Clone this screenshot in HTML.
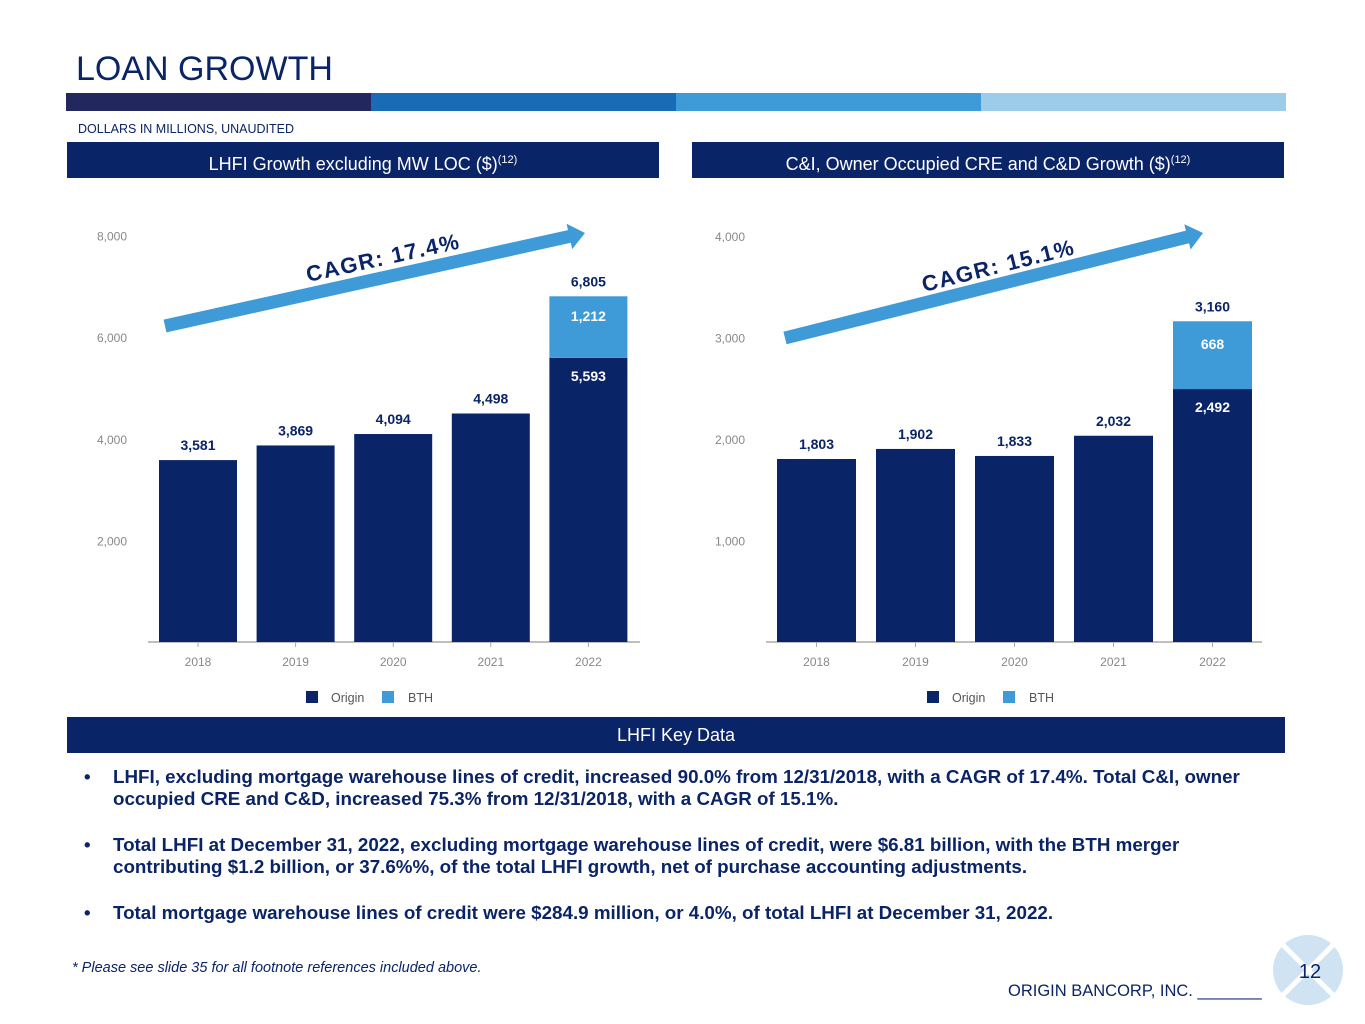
<!DOCTYPE html>
<html><head><meta charset="utf-8"><style>
body{margin:0;width:1365px;height:1024px;background:#fff;font-family:"Liberation Sans",sans-serif;position:relative;overflow:hidden}
.abs{position:absolute}
.hdr{background:#0a2468;color:#fff;text-align:center;font-size:18px;line-height:36px;height:36px}
.hdr sup{font-size:11px}
ul{margin:0;padding:0;list-style:none}
li{position:relative;padding-left:43px;color:#0a2468;font-weight:bold;font-size:18.8px;line-height:21.5px;margin-bottom:25px}
li:before{content:"•";position:absolute;left:14px}
</style></head><body>
<div class="abs" style="left:76px;top:50px;font-size:34px;color:#0a2468">LOAN GROWTH</div>
<div class="abs" style="left:66px;top:93px;width:1220px;height:18px;display:flex">
<div style="flex:1;background:#22285e"></div><div style="flex:1;background:#1a6bb5"></div><div style="flex:1;background:#3f9ad8"></div><div style="flex:1;background:#9dcbea"></div></div>
<div class="abs" style="left:78px;top:122px;font-size:12.5px;color:#0a2468">DOLLARS IN MILLIONS, UNAUDITED</div>
<div class="abs hdr" style="left:67px;top:142px;width:592px">LHFI Growth excluding MW LOC ($)<sup>(12)</sup></div>
<div class="abs hdr" style="left:692px;top:142px;width:592px">C&amp;I, Owner Occupied CRE and C&amp;D Growth ($)<sup>(12)</sup></div>
<svg class="abs" style="left:0;top:0" width="1365" height="720" id="charts"></svg>
<div class="abs hdr" style="left:67px;top:717px;width:1218px">LHFI Key Data</div>
<ul class="abs" style="left:70px;top:766px;width:1195px">
<li>LHFI, excluding mortgage warehouse lines of credit, increased 90.0% from 12/31/2018, with a CAGR of 17.4%. Total C&amp;I, owner occupied CRE and C&amp;D, increased 75.3% from 12/31/2018, with a CAGR of 15.1%.</li>
<li>Total LHFI at December 31, 2022, excluding mortgage warehouse lines of credit, were $6.81 billion, with the BTH merger contributing $1.2 billion, or 37.6%%, of the total LHFI growth, net of purchase accounting adjustments.</li>
<li>Total mortgage warehouse lines of credit were $284.9 million, or 4.0%, of total LHFI at December 31, 2022.</li>
</ul>
<div class="abs" style="left:72px;top:960px;font-size:14.5px;font-style:italic;color:#0a2468">* Please see slide 35 for all footnote references included above.</div>
<div class="abs" style="left:1008px;top:982px;font-size:16.5px;color:#0a2468">ORIGIN BANCORP, INC. _______</div>
<svg class="abs" style="left:1270px;top:932px" width="76" height="76"><circle cx="38" cy="38" r="35" fill="#cfe3f3"/><path d="M13 13L63 63M63 13L13 63" stroke="#fff" stroke-width="5"/><text x="40" y="46" text-anchor="middle" font-size="20" fill="#0a2468" font-family="Liberation Sans">12</text></svg>
<script>
const years=["2018","2019","2020","2021","2022"];
const leftOrigin=[3581,3869,4094,4498,5593];
const leftBTH=[0,0,0,0,1212];
const leftTicks=[2000,4000,6000,8000];
const rightOrigin=[1803,1902,1833,2032,2492];
const rightBTH=[0,0,0,0,668];
const rightTicks=[1000,2000,3000,4000];
const svg=document.getElementById('charts');
const NS='http://www.w3.org/2000/svg';
function mk(t,a,txt){const e=document.createElementNS(NS,t);for(const k in a)e.setAttribute(k,a[k]);if(txt!==undefined)e.textContent=txt;svg.appendChild(e);return e;}
function fmt(v){return v.toLocaleString('en-US');}
function chart(c){
  const y=v=>c.zero-v*c.scale;
  const x=i=>c.x0+i*c.pitch;
  let e=mk('line',{x1:c.ax0,x2:c.ax1,y1:c.zero,y2:c.zero,stroke:'#aaa','stroke-width':1.5});
  
  c.ticks.forEach(t=>{e=mk('text',{x:c.lx,y:y(t)+5,'text-anchor':'end','font-size':12,fill:'#888'},fmt(t));
    });
  c.cats.forEach((cat,i)=>{
    const o=c.o[i],b=c.b[i],cx=x(i)+c.w/2;
    e=mk('rect',{x:x(i),y:y(o),width:c.w,height:o*c.scale,fill:'#0a2468'});
    
    if(b>0){
      e=mk('rect',{x:x(i),y:y(o+b),width:c.w,height:b*c.scale,fill:'#3f9ad8'});
      
      e=mk('text',{x:cx,y:y(o+b/2)-6,'text-anchor':'middle','font-size':14,'font-weight':'bold',fill:'#fff'},fmt(b));
      
      e=mk('text',{x:cx,y:y(o)+23,'text-anchor':'middle','font-size':14,'font-weight':'bold',fill:'#fff'},fmt(o));
      
    }
    e=mk('text',{x:cx,y:y(o+b)-10,'text-anchor':'middle','font-size':14,'font-weight':'bold',fill:'#0a2468'},fmt(o+b));
    
    e=mk('line',{x1:cx,x2:cx,y1:c.zero,y2:c.zero+5,stroke:'#aaa'});
    e=mk('text',{x:cx,y:666,'text-anchor':'middle','font-size':12,fill:'#888'},cat);
    
  });
  e=mk('rect',{x:c.lg,y:691,width:12,height:12,fill:'#0a2468'});
  
  e=mk('text',{x:c.lg+25,y:702,'font-size':12.5,fill:'#555'},'Origin');
  
  e=mk('rect',{x:c.lg+76,y:691,width:12,height:12,fill:'#3f9ad8'});
  
  e=mk('text',{x:c.lg+102,y:702,'font-size':12.5,fill:'#555'},'BTH');
  
  const [x1,y1,x2,y2]=c.arrow,ang=Math.atan2(y2-y1,x2-x1)*180/Math.PI,len=Math.hypot(x2-x1,y2-y1);
  e=mk('path',{d:`M0 -6.5 L${len-16} -6.5 L${len-16} -13 L${len} 0 L${len-16} 13 L${len-16} 6.5 L0 6.5Z`,fill:'#3f9ad8',transform:`translate(${x1},${y1}) rotate(${ang})`});
  
  e=mk('text',{x:0,y:0,'font-size':22,'font-weight':'bold',fill:'#0a2468','letter-spacing':1.5,transform:`translate(${c.ct[0]},${c.ct[1]}) rotate(${ang})`},c.cagr);
  
}
chart({cats:years,o:leftOrigin,b:leftBTH,ticks:leftTicks,zero:642,scale:0.0508,x0:159,pitch:97.6,w:78,ax0:148,ax1:640,lx:127,lg:306,arrow:[165,326,585,233],ct:[308,282],cagr:'CAGR:  17.4%'});
chart({cats:years,o:rightOrigin,b:rightBTH,ticks:rightTicks,zero:642,scale:0.1015,x0:777,pitch:99,w:79,ax0:766,ax1:1262,lx:745,lg:927,arrow:[785,338,1203,233],ct:[924,292],cagr:'CAGR:  15.1%'});
</script>
</body></html>
